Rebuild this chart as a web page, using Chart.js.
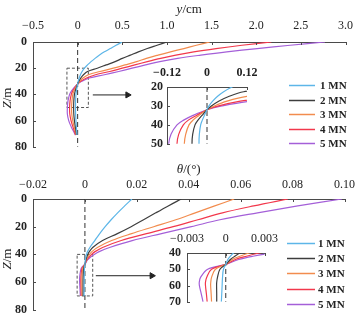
<!DOCTYPE html>
<html>
<head>
<meta charset="utf-8">
<script src="https://cdn.jsdelivr.net/npm/chart.js@4.4.0/dist/chart.umd.min.js"></script>
<style>
  html, body { margin: 0; padding: 0; background: #fff; }
  #wrap { position: relative; width: 362px; height: 323px; overflow: hidden; }
  #wrap canvas { position: absolute; }
</style>
</head>
<body>
<div id="wrap">
  <canvas id="dispMain" width="362" height="160" style="left:0;top:0"></canvas>
  <canvas id="rotMain" width="362" height="163" style="left:0;top:160px"></canvas>
  <canvas id="dispZoom" width="135" height="100" style="left:130px;top:55px"></canvas>
  <canvas id="rotZoom" width="135" height="95" style="left:150px;top:220px"></canvas>
</div>
<script>
const loadLabels = ['1 MN', '2 MN', '3 MN', '4 MN', '5 MN'];
const lineColors = ['#5db6e8', '#3d3d3d', '#f28c4e', '#f2384c', '#a45fd8'];

// lateral displacement y (cm) along the pile, depth Z (m)
const dispDepth = [0, 2.5, 5, 7.5, 10, 12.5, 15, 17.5, 20, 22.5, 25, 27.5, 30, 32, 35, 37.5, 40, 45, 50, 55, 60, 65, 68, 71];
const disp1MN = [0.50, 0.43, 0.365, 0.30, 0.245, 0.195, 0.15, 0.11, 0.075, 0.05, 0.031, 0.017, 0.006, 0, -0.008, -0.014, -0.019, -0.023, -0.024, -0.023, -0.019, -0.014, -0.011, -0.008];
const disp2MN = [1.00, 0.89, 0.78, 0.68, 0.59, 0.50, 0.42, 0.32, 0.22, 0.11, 0.065, 0.035, 0.013, 0, -0.015, -0.027, -0.036, -0.043, -0.045, -0.043, -0.036, -0.025, -0.018, -0.012];
const disp3MN = [1.48, 1.33, 1.19, 1.04, 0.90, 0.77, 0.66, 0.53, 0.40, 0.25, 0.12, 0.06, 0.022, 0, -0.024, -0.042, -0.054, -0.064, -0.068, -0.066, -0.055, -0.038, -0.027, -0.016];
const disp4MN = [2.17, 1.84, 1.55, 1.30, 1.10, 0.93, 0.78, 0.64, 0.50, 0.36, 0.20, 0.10, 0.035, 0, -0.032, -0.056, -0.071, -0.085, -0.090, -0.088, -0.074, -0.052, -0.037, -0.022];
const disp5MN = [2.77, 2.38, 2.01, 1.67, 1.38, 1.12, 0.92, 0.76, 0.61, 0.46, 0.30, 0.13, 0.045, 0, -0.042, -0.070, -0.090, -0.108, -0.115, -0.115, -0.100, -0.070, -0.048, -0.025];

// rotation θ (°) along the pile
const rotDepth = [0, 5, 10, 15, 20, 25, 30, 35, 38, 40, 42, 44, 47, 50, 55, 58, 60, 65, 70];
const rot1MN = [0.0181, 0.0153, 0.0126, 0.0101, 0.0078, 0.0057, 0.0038, 0.0019, 0.0010, 0.0006, 0.00035, 0.00016, 0, -0.00018, -0.00025, -0.00027, -0.00028, -0.00031, -0.00034];
const rot2MN = [0.0371, 0.0321, 0.0273, 0.0226, 0.0178, 0.0125, 0.0068, 0.0030, 0.0017, 0.0011, 0.0007, 0.00036, 0, -0.00045, -0.00064, -0.0007, -0.00071, -0.0007, -0.0007];
const rot3MN = [0.0575, 0.0500, 0.0425, 0.0350, 0.0265, 0.0180, 0.0103, 0.0048, 0.0027, 0.0018, 0.0011, 0.0005, 0, -0.0008, -0.0011, -0.00116, -0.00117, -0.00113, -0.0011];
const rot4MN = [0.0782, 0.0650, 0.0530, 0.0435, 0.0340, 0.0237, 0.0140, 0.0068, 0.0039, 0.0026, 0.0016, 0.00075, 0, -0.0011, -0.00148, -0.00157, -0.00157, -0.0015, -0.00144];
const rot5MN = [0.0990, 0.0820, 0.0665, 0.0520, 0.0410, 0.0295, 0.0182, 0.0095, 0.0055, 0.0036, 0.0021, 0.0010, 0, -0.0014, -0.00195, -0.00205, -0.00204, -0.0019, -0.00176];

// tick labels
const dispTicks = ['−0.5', '0', '0.5', '1.0', '1.5', '2.0', '2.5', '3.0'];
const rotTicks = ['−0.02', '0', '0.02', '0.04', '0.06', '0.08', '0.10'];
const depthTicks = ['0', '20', '40', '60', '80'];
const dispZoomTicks = ['−0.12', '0', '0.12'];
const dispZoomDepthTicks = ['20', '30', '40', '50'];
const rotZoomTicks = ['−0.003', '0', '0.003'];
const rotZoomDepthTicks = ['40', '50', '60', '70'];

// zoomed windows and pointer arrows
const dispZoomX = [-0.12, 0.12], dispZoomZ = [20, 50];
const rotZoomX = [-0.003, 0.003], rotZoomZ = [40, 70];
const dispArrowX = [0.17, 0.56], dispArrowZ = 40.4;
const rotArrowX = [0.0042, 0.0258], rotArrowZ = 55.4;

const FONT = "'Liberation Serif', 'Times New Roman', serif";
const AXIS = '#4a4a4a';

const num = s => Number(s.replace('−', '-'));

function profileSets(depth, series) {
  return series.map((vals, i) => ({
    label: loadLabels[i],
    data: vals.map((v, k) => ({ x: v, y: depth[k] })),
    borderColor: lineColors[i],
    borderWidth: 1.2,
    pointRadius: 0,
    showLine: true,
    tension: 0.35
  }));
}

function zeroLine(zMin, zMax) {
  return {
    data: [{ x: 0, y: zMin }, { x: 0, y: zMax }],
    borderColor: '#333', borderWidth: 1, borderDash: [5, 3],
    pointRadius: 0, showLine: true, tension: 0
  };
}

function windowBox(xr, zr) {
  return {
    data: [{ x: xr[0], y: zr[0] }, { x: xr[1], y: zr[0] }, { x: xr[1], y: zr[1] }, { x: xr[0], y: zr[1] }, { x: xr[0], y: zr[0] }],
    borderColor: '#555', borderWidth: 1, borderDash: [3, 2],
    pointRadius: 0, showLine: true, tension: 0
  };
}

function arrow(xr, z) {
  return {
    data: [{ x: xr[0], y: z }, { x: xr[1], y: z }],
    borderColor: '#222', borderWidth: 1,
    pointRadius: [0, 3.5], pointStyle: 'triangle', rotation: 90,
    pointBackgroundColor: '#222', pointBorderColor: '#222',
    showLine: true, tension: 0
  };
}

// text with italic symbol followed by upright unit
function drawRich(ctx, parts, x, y, size) {
  let total = 0;
  const widths = parts.map(p => {
    ctx.font = `${p.italic ? 'italic ' : ''}${size}px ${FONT}`;
    const w = ctx.measureText(p.t).width;
    total += w;
    return w;
  });
  let cx = x - total / 2;
  ctx.textAlign = 'left';
  ctx.textBaseline = 'middle';
  parts.forEach((p, i) => {
    ctx.font = `${p.italic ? 'italic ' : ''}${size}px ${FONT}`;
    ctx.fillText(p.t, cx, y);
    cx += widths[i];
  });
}

function decor(cfg) {
  return {
    id: 'profileDecor',
    afterDraw(chart) {
      const { ctx, chartArea: area, scales: { x, y } } = chart;
      ctx.save();
      // tick marks point into the plot
      ctx.strokeStyle = AXIS;
      ctx.lineWidth = 1;
      ctx.beginPath();
      x.ticks.forEach(t => {
        const px = Math.round(x.getPixelForValue(t.value)) + 0.5;
        ctx.moveTo(px, area.top);
        ctx.lineTo(px, area.top + 3);
      });
      y.ticks.forEach(t => {
        const py = Math.round(y.getPixelForValue(t.value)) + 0.5;
        ctx.moveTo(area.left, py);
        ctx.lineTo(area.left + 3, py);
      });
      ctx.stroke();
      ctx.fillStyle = '#222';
      if (cfg.xTitle) drawRich(ctx, cfg.xTitle, (area.left + area.right) / 2, cfg.xTitleY, 13);
      if (cfg.yTitle) {
        ctx.save();
        ctx.translate(cfg.yTitleX, cfg.yTitleY);
        ctx.rotate(-Math.PI / 2);
        drawRich(ctx, cfg.yTitle, 0, 0, 13);
        ctx.restore();
      }
      if (cfg.legend) {
        const L = cfg.legend;
        ctx.font = `bold 11px ${FONT}`;
        ctx.textAlign = 'left';
        ctx.textBaseline = 'middle';
        loadLabels.forEach((lab, i) => {
          const yy = Math.round(L.top + i * L.step) + 0.5;
          ctx.strokeStyle = lineColors[i];
          ctx.lineWidth = 1.5;
          ctx.beginPath();
          ctx.moveTo(L.x0, yy);
          ctx.lineTo(L.x1, yy);
          ctx.stroke();
          ctx.fillStyle = '#222';
          ctx.fillText(lab, L.tx, yy + 0.5);
        });
      }
      ctx.restore();
    }
  };
}

function makeChart(id, cfg) {
  const xVals = cfg.xTicks.map(num);
  const yVals = cfg.yTicks.map(num);
  return new Chart(document.getElementById(id), {
    type: 'scatter',
    data: { datasets: cfg.datasets },
    options: {
      responsive: false,
      animation: false,
      events: [],
      layout: { padding: cfg.padding },
      plugins: { legend: { display: false }, tooltip: { enabled: false } },
      scales: {
        x: {
          type: 'linear', position: 'top',
          min: xVals[0], max: xVals[xVals.length - 1],
          afterBuildTicks: s => { s.ticks = xVals.map(v => ({ value: v })); },
          afterFit: s => { s.height = cfg.xAxisH; },
          ticks: {
            callback: (v, i) => cfg.xTicks[i],
            padding: cfg.xPad, maxRotation: 0, autoSkip: false,
            color: '#222', font: { family: FONT, size: 12, weight: cfg.xBold ? 'bold' : 'normal' }
          },
          grid: { display: false, drawTicks: false },
          border: { display: true, color: AXIS, width: 1 }
        },
        y: {
          type: 'linear', reverse: true,
          min: yVals[0], max: yVals[yVals.length - 1],
          afterBuildTicks: s => { s.ticks = yVals.map(v => ({ value: v })); },
          afterFit: s => { s.width = cfg.yAxisW; },
          ticks: {
            callback: (v, i) => cfg.yTicks[i],
            padding: cfg.yPad, autoSkip: false,
            color: '#222', font: { family: FONT, size: 12, weight: 'bold' }
          },
          grid: { display: false, drawTicks: false },
          border: { display: true, color: AXIS, width: 1 }
        }
      }
    },
    plugins: [decor(cfg)]
  });
}

// displacement profile
makeChart('dispMain', {
  datasets: [
    ...profileSets(dispDepth, [disp1MN, disp2MN, disp3MN, disp4MN, disp5MN]),
    zeroLine(0, 80),
    windowBox(dispZoomX, dispZoomZ),
    arrow(dispArrowX, dispArrowZ)
  ],
  xTicks: dispTicks, yTicks: depthTicks,
  padding: { left: 0, top: 0, right: 11, bottom: 7 },
  xAxisH: 42, yAxisW: 33, xPad: 9, yPad: 6,
  xTitle: [{ t: 'y', italic: true }, { t: '/cm' }], xTitleY: 10,
  yTitle: [{ t: 'Z', italic: true }, { t: '/m' }], yTitleX: 8, yTitleY: 98,
  legend: { top: 85, step: 14.5, x0: 289, x1: 315, tx: 320 }
});

// rotation profile
makeChart('rotMain', {
  datasets: [
    ...profileSets(rotDepth, [rot1MN, rot2MN, rot3MN, rot4MN, rot5MN]),
    zeroLine(0, 80),
    windowBox(rotZoomX, rotZoomZ),
    arrow(rotArrowX, rotArrowZ)
  ],
  xTicks: rotTicks, yTicks: depthTicks,
  padding: { left: 0, top: 0, right: 11, bottom: 10 },
  xAxisH: 39, yAxisW: 33, xPad: 7, yPad: 6,
  xTitle: [{ t: 'θ', italic: true }, { t: '/(°)' }], xTitleY: 10,
  yTitle: [{ t: 'Z', italic: true }, { t: '/m' }], yTitleX: 8, yTitleY: 99,
  legend: { top: 83, step: 15.2, x0: 287, x1: 315, tx: 318 }
});

// magnified views near the zero crossing
makeChart('dispZoom', {
  datasets: [
    ...profileSets(dispDepth, [disp1MN, disp2MN, disp3MN, disp4MN, disp5MN]),
    zeroLine(dispZoomZ[0], dispZoomZ[1])
  ],
  xTicks: dispZoomTicks, yTicks: dispZoomDepthTicks,
  padding: { left: 0, top: 0, right: 18, bottom: 8 },
  xAxisH: 32, yAxisW: 37, xPad: 7, yPad: 4, xBold: true
});

makeChart('rotZoom', {
  datasets: [
    ...profileSets(rotDepth, [rot1MN, rot2MN, rot3MN, rot4MN, rot5MN]),
    zeroLine(rotZoomZ[0], rotZoomZ[1])
  ],
  xTicks: rotZoomTicks, yTicks: rotZoomDepthTicks,
  padding: { left: 0, top: 0, right: 16, bottom: 9 },
  xAxisH: 33, yAxisW: 37, xPad: 7, yPad: 6
});
</script>
</body>
</html>
